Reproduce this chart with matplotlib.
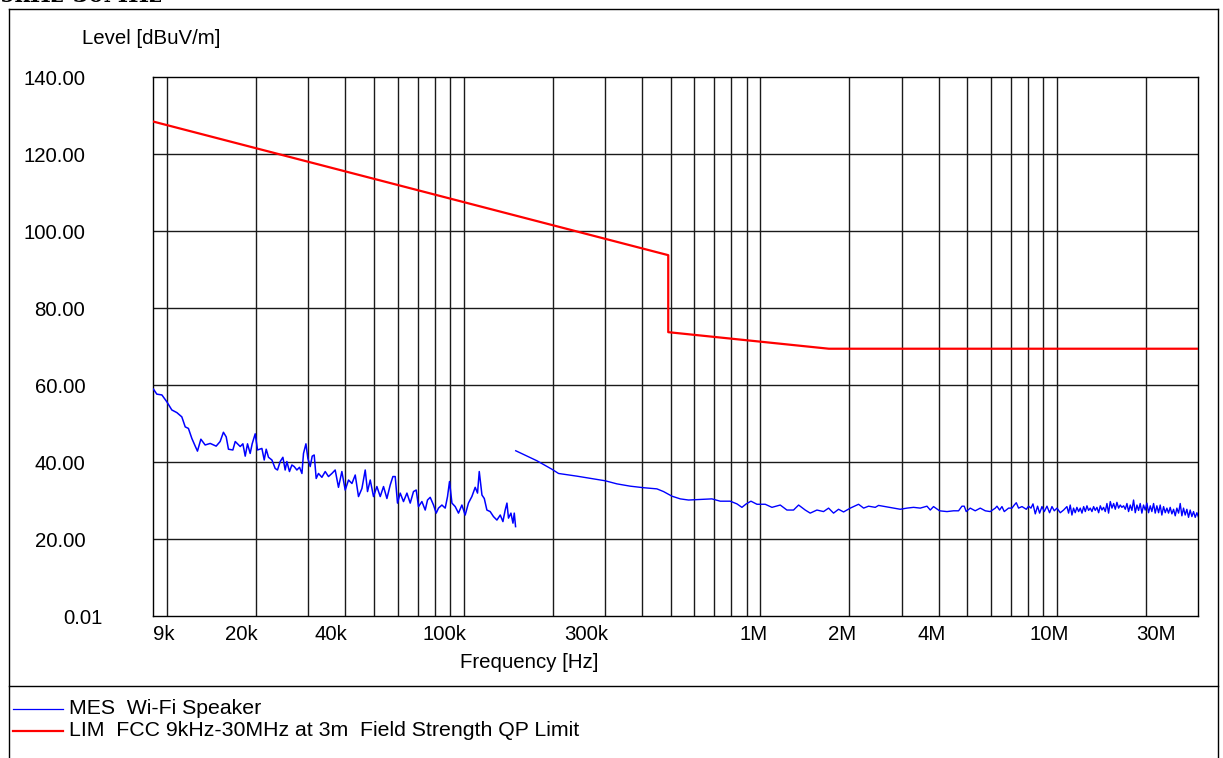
import matplotlib
matplotlib.use('Agg')
import matplotlib.pyplot as plt
from matplotlib.lines import Line2D
from matplotlib.transforms import ScaledTranslation


# limit line (FCC 15.209, 9kHz-30MHz at 3m), freq in kHz
limit_freq = [9, 490, 490, 1705, 30000]
limit_level = [128.5, 93.8, 73.8, 69.5, 69.5]

# measured trace, part 1 (9kHz - 150kHz), freq in kHz
mes1_freq = [9.01, 9.25, 9.62, 10.0, 10.39, 10.81, 11.23, 11.53, 11.82, 12.14,
             12.46, 12.68, 13.02, 13.46, 14.0, 14.66, 15.12, 15.51, 15.85, 16.13,
             16.69, 17.0, 17.67, 18.04, 18.37, 18.7, 19.09, 19.39, 19.85, 20.21,
             20.91, 21.29, 21.62, 22.01, 22.6, 23.18, 23.6, 24.1, 24.61, 25.05,
             25.38, 25.9, 26.39, 26.86, 27.43, 28.0, 28.53, 28.88, 29.43, 29.88,
             30.42, 30.9, 31.38, 31.87, 32.44, 33.31, 34.18, 35.06, 36.0, 36.93,
             37.89, 38.9, 39.92, 40.96, 42.06, 43.15, 44.26, 45.45, 46.63, 47.47,
             48.48, 49.73, 51.05, 52.39, 53.75, 55.18, 56.61, 57.81, 58.85, 59.91,
             61.18, 62.76, 64.45, 66.12, 67.83, 69.27, 70.52, 72.4, 74.29, 75.62,
             77.22, 79.23, 80.91, 82.36, 84.56, 86.76, 88.33, 89.71, 91.41, 93.76,
             96.18, 98.76, 101.3, 103.9, 106.7, 109.5, 111.5, 113.0, 115.4, 117.5,
             119.9, 123.0, 126.2, 129.6, 133.0, 135.8, 138.2, 140.1, 141.8, 144.5,
             146.8, 148.3, 149.8]
mes1_level = [59.0, 57.7, 57.5, 55.7, 53.6, 52.9, 51.8, 49.2, 48.8, 46.2,
              44.2, 42.9, 46.0, 44.5, 44.9, 44.2, 45.4, 47.8, 46.6, 43.4,
              43.2, 45.4, 44.1, 44.8, 41.6, 44.8, 42.3, 44.8, 47.4, 43.2,
              43.6, 40.6, 43.4, 41.3, 40.6, 38.4, 38.0, 40.2, 41.3, 38.0,
              40.2, 37.6, 39.3, 38.9, 38.0, 38.7, 37.1, 42.3, 44.8, 41.0,
              38.9, 41.6, 41.9, 35.8, 37.1, 36.1, 37.6, 36.3, 37.1, 38.0,
              33.5, 37.6, 32.8, 35.4, 34.5, 36.7, 31.1, 33.2, 38.0, 32.4,
              35.4, 31.1, 33.7, 31.1, 33.7, 30.6, 34.1, 36.3, 36.3, 29.4,
              32.0, 29.8, 32.0, 29.4, 32.4, 32.8, 28.5, 29.8, 27.6, 30.2,
              30.9, 28.9, 26.8, 28.1, 28.9, 28.1, 31.1, 35.0, 29.4, 28.5,
              26.8, 28.9, 26.3, 29.4, 31.1, 33.5, 32.0, 37.6, 31.5, 30.6,
              27.6, 27.2, 25.9, 25.0, 26.3, 24.6, 27.6, 29.4, 25.5, 26.8,
              24.2, 26.8, 23.3]

# measured trace, part 2 (150kHz - 30MHz), freq in kHz
mes2_freq = [150, 176.8, 198.6, 209.1, 241.2, 274.4, 300.4, 328.9, 364.8, 404.6,
             448.7, 472.4, 504.3, 537.9, 573.6, 612.2, 644.5, 687.7, 733.6, 792.9,
             835.2, 868.2, 897.7, 931.1, 975.6, 1040, 1096, 1169, 1231, 1296,
             1348, 1419, 1475, 1554, 1636, 1701, 1768, 1838, 1911, 2013,
             2147, 2233, 2320, 2444, 2507, 2968, 3126, 3290, 3466, 3651,
             3746, 3842, 4026, 4264, 4487, 4666, 4790, 4876, 4952, 5108,
             5310, 5521, 5741, 5968, 6204, 6286, 6415, 6535, 6653, 6879,
             7063, 7190, 7303, 7434, 7633, 7893, 8035, 8186, 8314, 8463,
             8616, 8752, 8915, 9077, 9268, 9456, 9634, 9808, 10016, 10275,
             10544,
             10820, 10960, 11100, 11250, 11390, 11540, 11690, 11850, 12000, 12160,
             12320, 12480, 12640, 12800, 12970, 13140, 13310, 13480, 13660, 13840,
             14020, 14200, 14380, 14570, 14760, 14950, 15150, 15350, 15550, 15750,
             15950, 16160, 16370, 16580, 16800, 17020, 17240, 17460, 17690, 17920,
             18150, 18390, 18630, 18870, 19110, 19360, 19610, 19870, 20130, 20390,
             20660, 20920, 21200, 21470, 21750, 22040, 22320, 22610, 22910, 23210,
             23510, 23810, 24120, 24440, 24760, 25080, 25400, 25740, 26070, 26410,
             26750, 27100, 27450, 27810, 28170, 28540, 28910, 29290, 29670, 30000]
mes2_level = [43.0, 40.4, 38.2, 37.1, 36.4, 35.7, 35.2, 34.4, 33.8, 33.4,
              33.1, 32.4, 31.2, 30.5, 30.2, 30.3, 30.4, 30.5, 29.9, 29.9,
              29.2, 28.3, 29.2, 29.9, 29.1, 29.1, 28.3, 28.9, 27.6, 27.6,
              28.9, 27.6, 26.8, 27.6, 27.2, 28.1, 26.8, 27.8, 27.1, 28.1,
              29.1, 28.1, 28.6, 28.3, 28.8, 27.8, 28.1, 28.3, 28.1, 28.6,
              27.6, 28.5, 27.4, 27.2, 27.4, 27.4, 28.6, 28.6, 27.2, 28.1,
              27.4, 28.1, 27.4, 27.2, 28.1, 28.6, 27.6, 28.5, 27.2, 28.1,
              28.1, 28.9, 29.5, 28.1, 28.5, 27.8, 28.6, 28.1, 29.2, 26.6,
              28.6, 26.8, 28.5, 27.2, 28.6, 26.9, 28.5, 27.4, 28.1, 26.9,
              27.6,
              28.5, 26.8, 28.9, 26.3, 28.1, 26.9, 28.3, 27.2, 28.1, 26.8,
              28.5, 27.2, 28.7, 27.5, 28.1, 27.2, 28.5, 27.5, 28.3, 26.9,
              28.7, 27.6, 28.3, 27.2, 29.3, 26.8, 29.8, 28.1, 29.3, 27.8,
              29.6, 28.1, 28.9, 28.3, 28.7, 27.8, 29.3, 27.2, 28.9, 27.5,
              30.2, 26.9, 28.9, 27.5, 29.3, 26.8, 28.9, 27.6, 29.4, 26.9,
              28.7, 27.2, 29.3, 26.8, 28.7, 26.9, 28.9, 26.3, 28.5, 26.9,
              28.1, 26.8, 28.3, 26.6, 27.8, 26.1, 28.1, 26.8, 29.3, 26.1,
              28.1, 26.3, 27.8, 25.7, 27.6, 25.9, 27.2, 25.7, 26.9, 25.9]

xtick_freq = [9, 20, 40, 100, 300, 1000, 2000, 4000, 10000, 30000]
xtick_text = ['9k', '20k', '40k', '100k', '300k', '1M', '2M', '4M', '10M', '30M']
ytick_vals = [0, 20, 40, 60, 80, 100, 120, 140]
ytick_text = ['0.01', '20.00', '40.00', '60.00', '80.00', '100.00', '120.00', '140.00']

plt.rcParams['font.family'] = ['Liberation Sans', 'DejaVu Sans']
FS = 14.7
FS_LEG = 15.3

W, H = 1223, 758
fig = plt.figure(figsize=(W / 100, H / 100), dpi=100)
ax = fig.add_axes([153.3 / W, 1 - 616.3 / H, (1198.3 - 153.3) / W, (616.3 - 77.3) / H])

# grid: every 1..9 x decade
grid_f = [m * d for d in [10, 100, 1000, 10000] for m in range(1, 10) if m * d < 30000]
for gf in grid_f:
    ax.axvline(gf, color='#1a1a1a', lw=1.0, zorder=1)
for yv in ytick_vals[1:-1]:
    ax.axhline(yv, color='#1a1a1a', lw=1.0, zorder=1)

ax.plot(mes1_freq, mes1_level, color='#0000ff', lw=1.1, zorder=3)
ax.plot(mes2_freq, mes2_level, color='#0000ff', lw=1.0, zorder=3)
ax.plot(limit_freq, limit_level, color='#ff0000', lw=1.6, zorder=4)

ax.set_xscale('log')
ax.set_xlim(9, 30000)
ax.set_ylim(0, 140)
ax.minorticks_off()
ax.set_xticks(xtick_freq)
ax.set_xticklabels(xtick_text, fontsize=FS)
ax.set_yticks(ytick_vals)
ax.set_yticklabels(ytick_text, fontsize=FS)
ax.tick_params(axis='x', length=0, pad=6.0)
ax.tick_params(axis='y', length=0, pad=49.0)
for s in ax.spines.values():
    s.set_color('black')
    s.set_linewidth(1.0)

# label nudges in px, the original software places them a bit off the gridlines
x_dx = [10.7, -15, -14.7, -18.6, -19, -6.2, -7, -7, -7.7, -42.8]
for lab, dx in zip(ax.get_xticklabels(), x_dx):
    lab.set_transform(lab.get_transform() + ScaledTranslation(dx / 100, 0, fig.dpi_scale_trans))
y_dx = [17, 0, 0, 0, 0, 0, 0, 0]
for lab, dx in zip(ax.get_yticklabels(), y_dx):
    lab.set_transform(lab.get_transform() + ScaledTranslation(dx / 100, 0, fig.dpi_scale_trans))

fig.text(81.7 / W, 1 - 38.5 / H, 'Level [dBuV/m]', fontsize=FS, va='center', ha='left')
fig.text(529 / W, 1 - 662 / H, 'Frequency [Hz]', fontsize=FS, va='center', ha='center')

# cut-off header at the very top (only a sliver shows in the original)
fig.text(0.0, 1 - 2 / H, '9kHz-30MHz', fontsize=16, family='DejaVu Serif',
         weight='bold', va='baseline', ha='left')

# outer frame
xl, xr = 8.5 / W, 1218 / W
yt, ysep = 1 - 8.5 / H, 1 - 686 / H
fig.add_artist(Line2D([xl, xl], [0, yt], color='black', lw=1.0))
fig.add_artist(Line2D([xr, xr], [0, yt], color='black', lw=1.0))
fig.add_artist(Line2D([xl, xr], [yt, yt], color='black', lw=1.0))
fig.add_artist(Line2D([xl, xr], [ysep, ysep], color='black', lw=1.0))

# legend block
fig.add_artist(Line2D([13.3 / W, 63.3 / W], [1 - 709 / H] * 2, color='#0000ff', lw=0.9))
fig.add_artist(Line2D([13.3 / W, 63.3 / W], [1 - 730.7 / H] * 2, color='#ff0000', lw=1.6))
fig.text(69 / W, 1 - 708.5 / H, 'MES  Wi-Fi Speaker', fontsize=FS_LEG, va='center')
fig.text(69 / W, 1 - 731 / H, 'LIM  FCC 9kHz-30MHz at 3m  Field Strength QP Limit',
         fontsize=FS_LEG, va='center')

fig.savefig('out.png', dpi=100)
